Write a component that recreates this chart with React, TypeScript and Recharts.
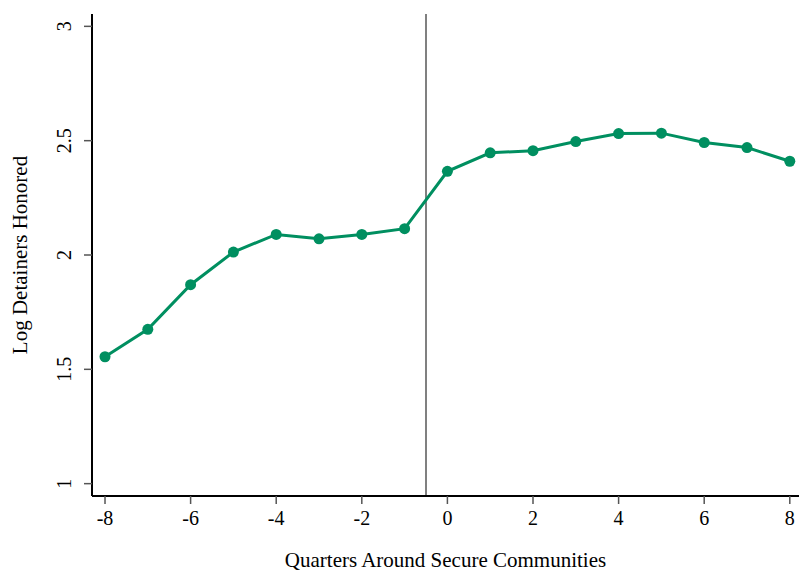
import { LineChart, Line, XAxis, YAxis, ReferenceLine, Label } from 'recharts';

// quarters relative to Secure Communities activation
const quarters = [-8, -7, -6, -5, -4, -3, -2, -1, 0, 1, 2, 3, 4, 5, 6, 7, 8];
const logDetainers = [
  1.555, 1.675, 1.87, 2.013, 2.09, 2.071, 2.09, 2.115, 2.366,
  2.447, 2.456, 2.496, 2.531, 2.533, 2.492, 2.47, 2.41,
];
const xTicks = [-8, -6, -4, -2, 0, 2, 4, 6, 8];
const yTicks = [1, 1.5, 2, 2.5, 3];

const data = quarters.map((q, i) => ({ q, y: logDetainers[i] }));

const FONT = '"Liberation Serif", "Times New Roman", serif';
const TICK_SIZE = 20;
const TITLE_SIZE = 21;
const GREEN = '#008f60';

const YTick = (props: any) => {
  const { x, y, payload } = props;
  const cx = x - 11;
  return (
    <text
      x={cx}
      y={y}
      transform={`rotate(-90, ${cx}, ${y})`}
      textAnchor="middle"
      fontFamily={FONT}
      fontSize={TICK_SIZE}
      fill="#000"
    >
      {payload.value}
    </text>
  );
};

const XTitle = (props: any) => {
  const { viewBox } = props;
  return (
    <text
      x={viewBox.x + viewBox.width / 2}
      y={567}
      textAnchor="middle"
      fontFamily={FONT}
      fontSize={TITLE_SIZE}
      fill="#000"
    >
      Quarters Around Secure Communities
    </text>
  );
};

const YTitle = (props: any) => {
  const { viewBox } = props;
  const cy = viewBox.y + viewBox.height / 2;
  return (
    <text
      x={27}
      y={cy}
      transform={`rotate(-90, 27, ${cy})`}
      textAnchor="middle"
      fontFamily={FONT}
      fontSize={TITLE_SIZE}
      fill="#000"
    >
      Log Detainers Honored
    </text>
  );
};

export default function App() {
  return (
    <div
      style={{
        position: 'fixed',
        left: 0,
        top: 0,
        width: 799,
        height: 571,
        overflow: 'hidden',
        background: '#fff',
      }}
    >
      <LineChart
        width={799}
        height={571}
        data={data}
        margin={{ top: 14, right: 0, left: 0, bottom: 0 }}
      >
        <XAxis
          xAxisId="top"
          orientation="top"
          dataKey="q"
          type="number"
          domain={[-8.304, 8.215]}
          allowDataOverflow
          height={0}
          tick={false}
          tickLine={false}
          axisLine={{ stroke: '#000', strokeWidth: 2 }}
        />
        <XAxis
          dataKey="q"
          type="number"
          domain={[-8.304, 8.215]}
          allowDataOverflow
          ticks={xTicks}
          height={75}
          tickSize={8}
          tickLine={{ stroke: '#555', strokeWidth: 1.5 }}
          axisLine={{ stroke: '#000', strokeWidth: 2 }}
          tick={{ fontFamily: FONT, fontSize: TICK_SIZE, fill: '#000', dy: 5 }}
        >
          <Label content={<XTitle />} />
        </XAxis>
        <YAxis
          type="number"
          domain={[0.946, 3.054]}
          allowDataOverflow
          ticks={yTicks}
          width={92}
          tickSize={8}
          tickLine={{ stroke: '#555', strokeWidth: 1.5 }}
          axisLine={{ stroke: '#000', strokeWidth: 2 }}
          tick={<YTick />}
        >
          <Label content={<YTitle />} />
        </YAxis>
        <ReferenceLine x={-0.5} stroke="#808080" strokeWidth={2} />
        <Line
          type="linear"
          dataKey="y"
          stroke={GREEN}
          strokeWidth={3}
          dot={{ r: 5.5, fill: GREEN, stroke: GREEN, strokeWidth: 0 }}
          activeDot={false}
          isAnimationActive={false}
        />
      </LineChart>
    </div>
  );
}
